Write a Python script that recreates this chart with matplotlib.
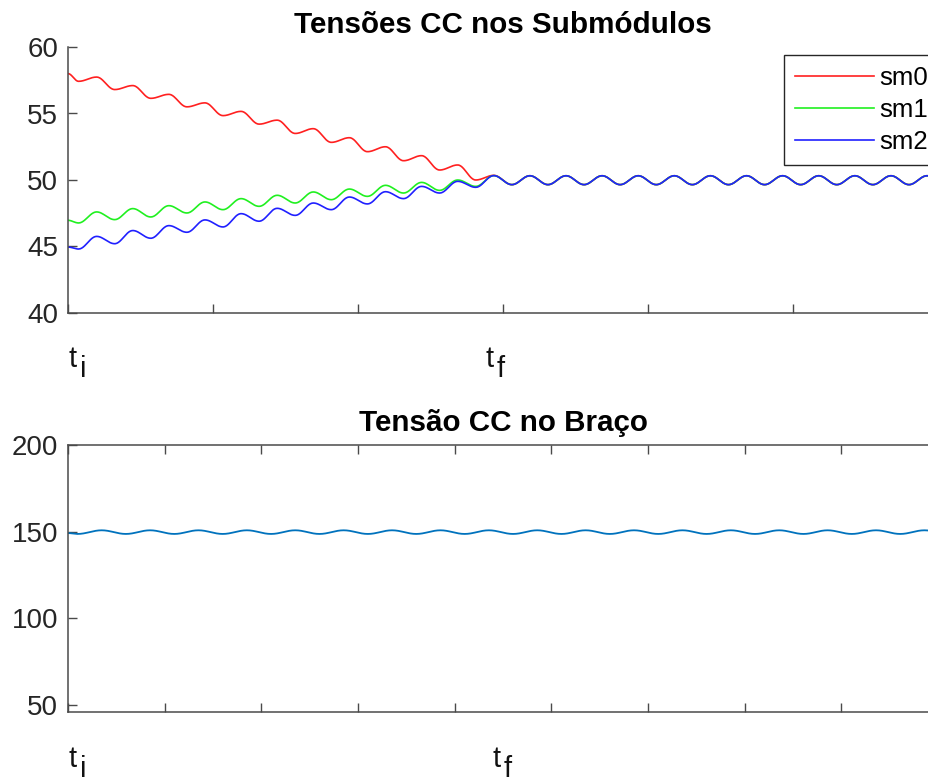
import numpy as np
import matplotlib
matplotlib.use('Agg')
import matplotlib.pyplot as plt

plt.rcParams['font.family'] = ['Liberation Sans', 'DejaVu Sans']

# Submodule DC voltages [V]: value at t = 0, then ripple minima / maxima
# one ripple cycle after another (time in ms)
ripple_period = 7.47
first_trough = 2.19

sm0_start = 58.0
sm0_troughs = [57.42, 56.80, 56.14, 55.50, 54.84, 54.20, 53.50, 52.83, 52.13, 51.45, 50.75, 50.00]
sm0_peaks = [57.74, 57.10, 56.44, 55.80, 55.16, 54.50, 53.86, 53.18, 52.50, 51.83, 51.13, 50.35]

sm1_start = 46.97
sm1_troughs = [46.77, 47.02, 47.22, 47.52, 47.77, 48.02, 48.27, 48.52, 48.77, 49.02, 49.22, 49.52]
sm1_peaks = [47.60, 47.85, 48.07, 48.35, 48.60, 48.85, 49.10, 49.32, 49.60, 49.82, 50.00, 50.33]

sm2_start = 44.96
sm2_troughs = [44.81, 45.21, 45.62, 46.07, 46.47, 46.90, 47.34, 47.77, 48.20, 48.60, 49.02, 49.45]
sm2_peaks = [45.76, 46.20, 46.57, 47.00, 47.47, 47.87, 48.27, 48.72, 49.12, 49.52, 49.90, 50.33]

# after balancing all three sit on the same ripple
steady_trough = 49.65
steady_peak = 50.32
steady_cycles = 13

# arm DC voltage [V]
arm_period = 7.51
arm_first_trough = 1.47
arm_start = 149.2
arm_trough = 148.7
arm_peak = 150.8
arm_cycles = 19

names = ['sm0', 'sm1', 'sm2']
colors = ['#ff2020', '#20f020', '#2020ff']


def ripple(t_ext, v_ext, n=24):
    # half-cosine between consecutive extrema
    ts, vs = [], []
    for i in range(len(t_ext) - 1):
        s = np.linspace(0, 1, n, endpoint=False)
        ts.append(t_ext[i] + (t_ext[i + 1] - t_ext[i]) * s)
        vs.append(v_ext[i] + (v_ext[i + 1] - v_ext[i]) * (1 - np.cos(np.pi * s)) / 2)
    ts.append([t_ext[-1]])
    vs.append([v_ext[-1]])
    return np.concatenate(ts), np.concatenate(vs)


def series(start, troughs, peaks, t0, period, tail_trough, tail_peak, tail_cycles):
    vals = [start]
    for lo, hi in zip(troughs, peaks):
        vals += [lo, hi]
    vals += [tail_trough, tail_peak] * tail_cycles
    times = [0.0] + [t0 + 0.5 * period * j for j in range(len(vals) - 1)]
    return ripple(np.array(times), np.array(vals))


fig = plt.figure(figsize=(9.29, 7.78), dpi=100)
W, H = 929, 778

ax1 = fig.add_axes([68 / W, 1 - 313 / H, 870 / W, 266 / H])
ax2 = fig.add_axes([68 / W, 1 - 712 / H, 870 / W, 267 / H])

sm_data = [
    (sm0_start, sm0_troughs, sm0_peaks),
    (sm1_start, sm1_troughs, sm1_peaks),
    (sm2_start, sm2_troughs, sm2_peaks),
]
for (start, lo, hi), name, c in zip(sm_data, names, colors):
    t, v = series(start, lo, hi, first_trough, ripple_period,
                  steady_trough, steady_peak, steady_cycles)
    ax1.plot(t, v, color=c, lw=1.2, label=name)

t, v = series(arm_start, [], [], arm_first_trough, arm_period,
              arm_trough, arm_peak, arm_cycles)
ax2.plot(t, v, color='#0072bd', lw=1.3)

spine_c = '#4a4a4a'
for ax in (ax1, ax2):
    for sp in ax.spines.values():
        sp.set_color(spine_c)
        sp.set_linewidth(1.1)
    ax.tick_params(direction='in', length=6.5, width=1.0, color=spine_c,
                   labelsize=20, labelcolor='#262626', pad=7)
    ax.set_xticklabels([])

ax1.set_xlim(0, 180)
ax1.set_ylim(40, 60)
ax1.set_xticks(np.arange(0, 181, 30))
ax1.set_yticks([40, 45, 50, 55, 60])
ax1.spines['top'].set_visible(False)
ax1.spines['right'].set_visible(False)
ax1.set_title('Tensões CC nos Submódulos', fontsize=21.3, fontweight='bold', pad=10)

ax2.set_xlim(0, 135)
ax2.set_ylim(46, 200)
ax2.set_xticks(np.arange(0, 136, 15))
ax2.set_yticks([50, 100, 150, 200])
ax2.tick_params(top=True, right=True)
ax2.set_title('Tensão CC no Braço', fontsize=21.3, fontweight='bold', pad=10)

leg = ax1.legend(loc='upper left', bbox_to_anchor=(784 / W, 1 - 55 / H),
                 bbox_transform=fig.transFigure, borderaxespad=0,
                 fontsize=18.5, handlelength=3.1, handletextpad=0.2,
                 labelspacing=0.32, borderpad=0.42, fancybox=False,
                 framealpha=1, edgecolor='#262626')
leg.get_frame().set_linewidth(1.0)


def t_label(x, y, sub):
    # "t" with a full-size subscript letter
    fig.text(x / W, 1 - y / H, 't', fontsize=21, color='#111111', va='baseline')
    fig.text((x + 11) / W, 1 - (y + 10) / H, sub, fontsize=21, color='#111111', va='baseline')


t_label(69, 367, 'i')
t_label(486, 367, 'f')
t_label(69, 767, 'i')
t_label(493, 767, 'f')

fig.savefig('out.png', dpi=100)
